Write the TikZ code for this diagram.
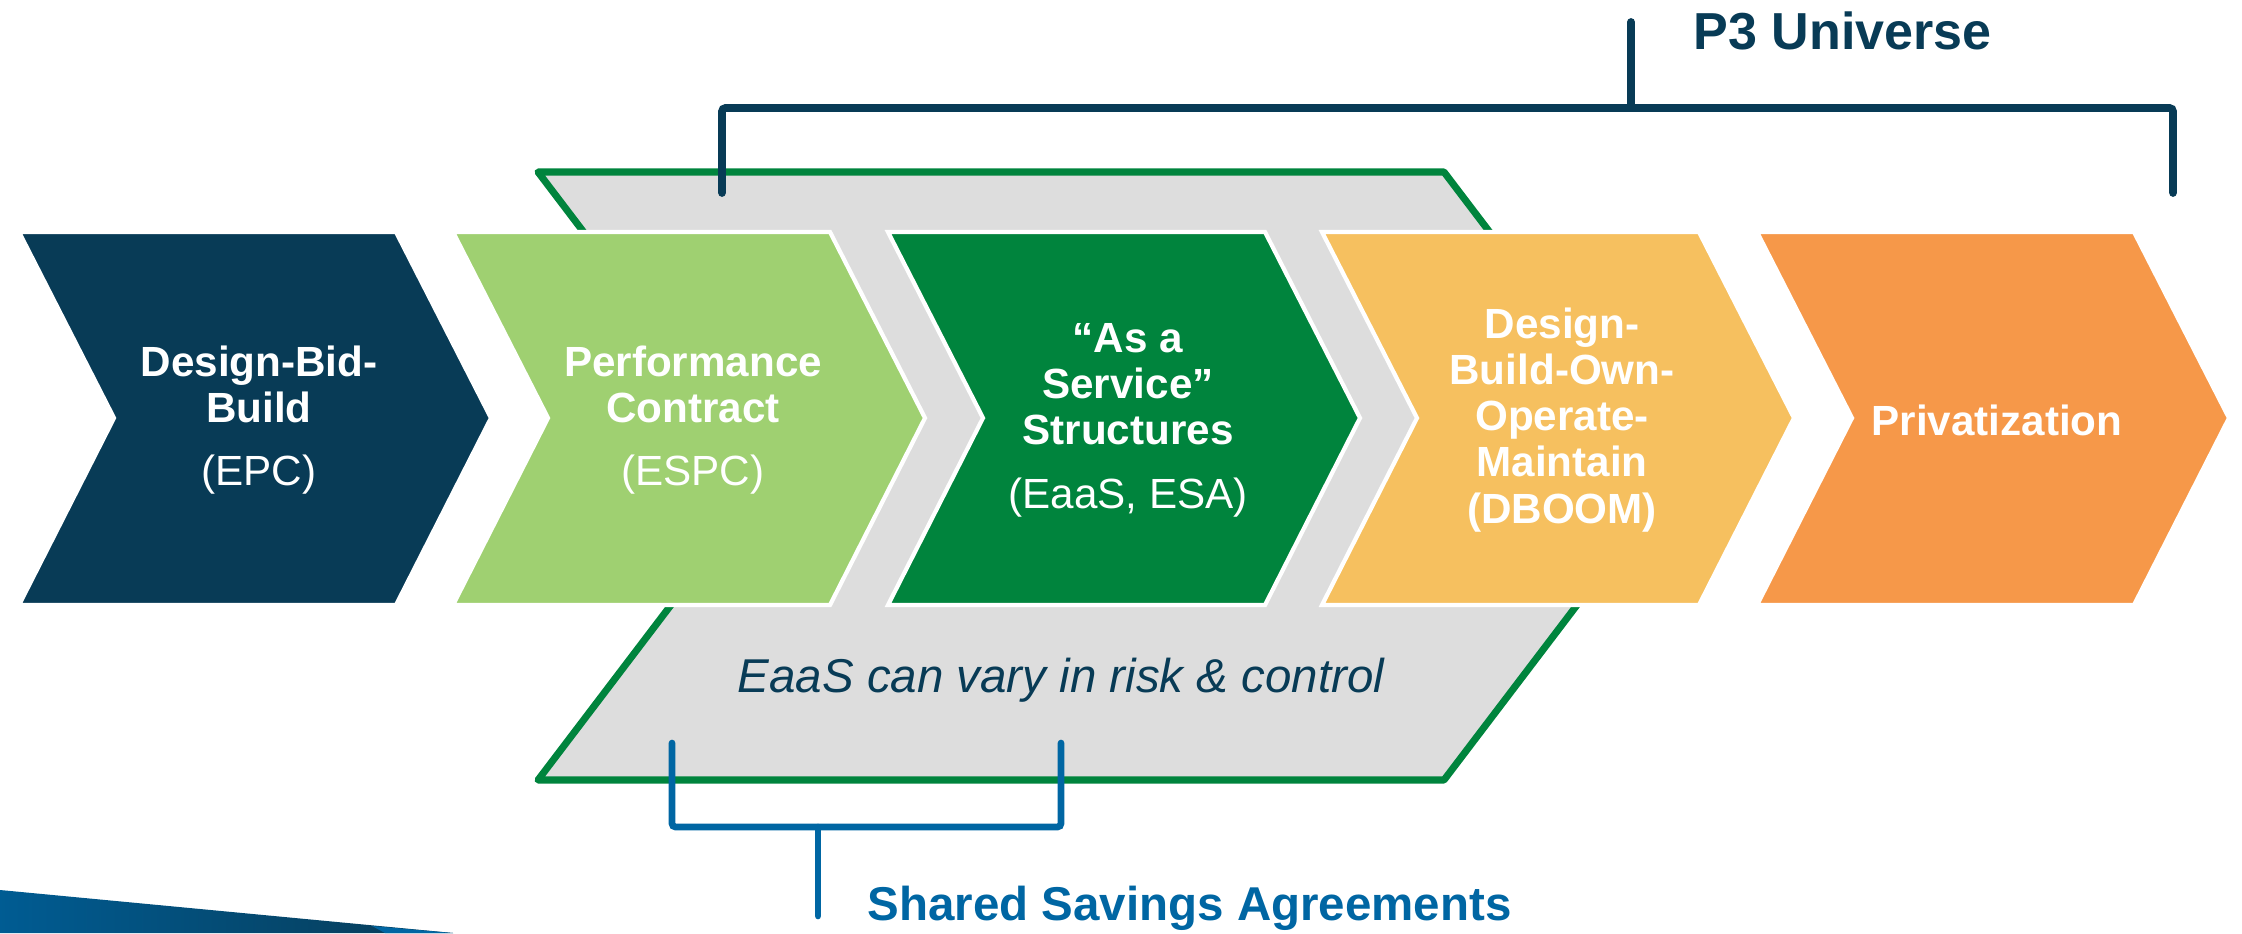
\documentclass[tikz,border=0pt]{standalone}
\usepackage{fontspec}
\setmainfont{Liberation Sans}
\pgfdeclarelayer{nodelayer}
\pgfdeclarelayer{edgelayer}
\pgfsetlayers{edgelayer,nodelayer,main}
\definecolor{navy}{HTML}{083B56}
\definecolor{leaf}{HTML}{9FD071}
\definecolor{forest}{HTML}{00843D}
\definecolor{sand}{HTML}{F6C05F}
\definecolor{peach}{HTML}{F69849}
\definecolor{band}{HTML}{DDDDDD}
\definecolor{ocean}{HTML}{0066A3}
\tikzstyle{chevron}=[draw=white, line width=1.2pt]
\tikzstyle{eaas band}=[fill=band, draw=forest, line width=2pt, line join=round]
\tikzstyle{step text}=[text=white, align=center, font=\bfseries\fontsize{12}{13.1}\selectfont]
\tikzstyle{note text}=[text=navy, font=\itshape\fontsize{13.5}{16}\selectfont]
\tikzstyle{head text}=[anchor=base west, inner sep=0pt]
\tikzstyle{p3 edge}=[draw=navy, line width=2.2pt, line cap=round, rounded corners=1pt]
\tikzstyle{savings edge}=[draw=ocean, line width=1.9pt, line cap=round, rounded corners=1pt]

\begin{document}
\begin{tikzpicture}[x=0.01cm, y=-0.01cm]
	\useasboundingbox (0,0) rectangle (2242,933);
	\begin{pgfonlayer}{nodelayer}
		\node [style=step text] (0) at (259, 420) {Design-Bid-\\Build\\[5pt]{\mdseries (EPC)}};
		\node [style=step text] (1) at (693, 420) {Performance\\Contract\\[5pt]{\mdseries (ESPC)}};
		\node [style=step text] (2) at (1128, 420) {“As a\\Service”\\Structures\\[5pt]{\mdseries (EaaS, ESA)}};
		\node [style=step text] (3) at (1562, 420) {Design-\\Build-Own-\\Operate-\\Maintain\\(DBOOM)};
		\node [style=step text] (4) at (1997, 420) {Privatization};
		\node [style=note text] (5) at (1061, 680) {EaaS can vary in risk \& control};
		\node [style=head text, text=navy, font=\bfseries\fontsize{14.8}{17}\selectfont] (6) at (1693, 49) {P3 Universe};
		\node [style=head text, text=ocean, font=\bfseries\fontsize{13.5}{16}\selectfont] (7) at (867, 920) {Shared Savings Agreements};
		\coordinate (10) at (722, 193);
		\coordinate (11) at (722, 108);
		\coordinate (12) at (2173, 108);
		\coordinate (13) at (2173, 193);
		\coordinate (14) at (1631, 108);
		\coordinate (15) at (1631, 22);
		\coordinate (20) at (672, 743);
		\coordinate (21) at (672, 827);
		\coordinate (22) at (1061, 827);
		\coordinate (23) at (1061, 743);
		\coordinate (24) at (818, 827);
		\coordinate (25) at (818, 916);
	\end{pgfonlayer}
	\begin{pgfonlayer}{edgelayer}
		\shade [left color=ocean!90!black, right color=navy] (0, 890) -- (453, 933) -- (0, 933) -- cycle;
		\fill [ocean] (372, 926) -- (453, 933) -- (385, 933) -- cycle;
		\draw [style=eaas band] (538, 172) -- (1444, 172) -- (1675, 476) -- (1444, 780) -- (538, 780) -- (769, 476) -- cycle;
		\fill [style=chevron, fill=navy] (19, 232) -- (396, 232) -- (491, 418) -- (396, 605) -- (19, 605) -- (114, 418) -- cycle;
		\fill [style=chevron, fill=leaf] (453, 232) -- (830, 232) -- (925, 418) -- (830, 605) -- (453, 605) -- (548, 418) -- cycle;
		\fill [style=chevron, fill=forest] (888, 232) -- (1265, 232) -- (1360, 418) -- (1265, 605) -- (888, 605) -- (983, 418) -- cycle;
		\fill [style=chevron, fill=sand] (1322, 232) -- (1699, 232) -- (1794, 418) -- (1699, 605) -- (1322, 605) -- (1417, 418) -- cycle;
		\fill [style=chevron, fill=peach] (1757, 232) -- (2134, 232) -- (2229, 418) -- (2134, 605) -- (1757, 605) -- (1852, 418) -- cycle;
		\draw [style=p3 edge] (10) -- (11) -- (12) -- (13);
		\draw [style=p3 edge] (14) -- (15);
		\draw [style=savings edge] (20) -- (21) -- (22) -- (23);
		\draw [style=savings edge] (24) -- (25);
	\end{pgfonlayer}
\end{tikzpicture}
\end{document}
